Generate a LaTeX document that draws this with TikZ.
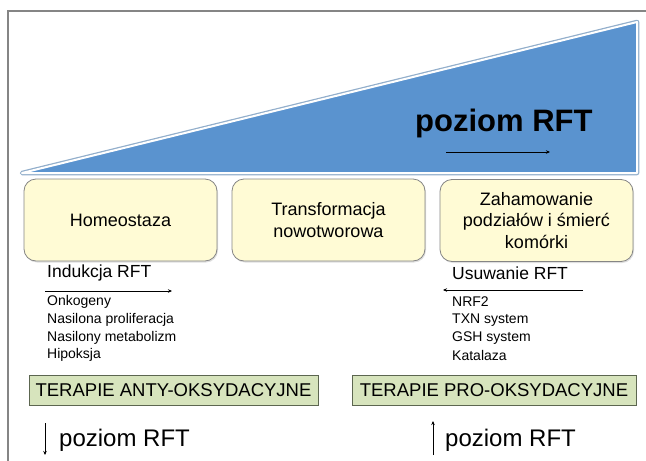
\documentclass[tikz,border=0pt]{standalone}
\usepackage{fontspec}
\setmainfont{Liberation Sans}
\usepackage{xcolor}
\usetikzlibrary{arrows.meta,positioning,shadows}
\definecolor{frame}{HTML}{858585}
\definecolor{wedge}{HTML}{5A93CF}
\definecolor{wedgeline}{HTML}{4A78A8}
\definecolor{cream}{HTML}{FFFBD5}
\definecolor{sage}{HTML}{D7E4BD}
\definecolor{sageline}{HTML}{5C6650}

\begin{document}
\begin{tikzpicture}[x=1pt,y=-1pt,
  stage/.style={draw=frame,fill=cream,rounded corners=12pt,minimum width=193pt,minimum height=82pt,align=center,line width=0.8pt,font=\fontsize{18}{21.5}\selectfont,drop shadow={opacity=0.25,shadow xshift=1pt,shadow yshift=-1.5pt}},
  therapy/.style={draw=sageline,fill=sage,minimum height=30pt,line width=0.8pt,font=\fontsize{18.5}{21}\selectfont},
  item/.style={anchor=west,inner sep=0pt,font=\fontsize{14}{16}\selectfont},
  thinarrow/.style={-{Stealth[length=4pt,width=3.5pt]},line width=0.6pt}]
\useasboundingbox (0,0) rectangle (646,461);
\draw[frame,line width=2pt] (8,461)--(8,11)--(646,11);
% rising wedge
\draw[wedgeline!60,line width=4.5pt,line join=round] (22,173)--(637,22)--(637,173)--cycle;
\filldraw[fill=wedge,draw=white,line width=2pt,line join=round] (22,173)--(637,22)--(637,173)--cycle;
\node[anchor=west,inner sep=0pt,font=\fontsize{31}{31}\selectfont\bfseries] (level) at (415,123) {poziom RFT};
\coordinate (lvA) at (446,152);\coordinate (lvB) at (550,152);
\draw[thinarrow] (lvA)--(lvB);
% stages
\node[stage] (homeo) at (120.5,220) {Homeostaza};
\node[stage] (transf) at (328.5,220) {Transformacja\\nowotworowa};
\node[stage] (zaham) at (536.5,220.5) {Zahamowanie\\podziałów i śmierć\\komórki};
% induction / removal
\node[anchor=west,inner sep=0pt,font=\fontsize{17.5}{20}\selectfont] (ind) at (47,273) {Indukcja RFT};
\coordinate (indA) at (45,291);\coordinate (indB) at (172,291);
\draw[thinarrow] (indA)--(indB);
\node[item] (ind1) at (47,302) {Onkogeny};
\node[item] (ind2) at (47,320) {Nasilona proliferacja};
\node[item] (ind3) at (47,338) {Nasilony metabolizm};
\node[item] (ind4) at (47,355) {Hipoksja};
\node[anchor=west,inner sep=0pt,font=\fontsize{17.5}{20}\selectfont] (rem) at (452,273) {Usuwanie RFT};
\coordinate (remA) at (583,290);\coordinate (remB) at (443,290);
\draw[thinarrow] (remA)--(remB);
\node[item] (rem1) at (452,302) {NRF2};
\node[item] (rem2) at (452,320) {TXN system};
\node[item] (rem3) at (452,338) {GSH system};
\node[item] (rem4) at (452,355) {Katalaza};
% therapies
\node[therapy,minimum width=289pt] (anti) at (173.5,390) {TERAPIE ANTY-OKSYDACYJNE};
\node[therapy,minimum width=284pt] (pro) at (494,390) {TERAPIE PRO-OKSYDACYJNE};
\coordinate (dnA) at (45,423);\coordinate (dnB) at (45,455);
\draw[thinarrow] (dnA)--(dnB);
\node[anchor=west,inner sep=0pt,font=\fontsize{24}{24}\selectfont] (low) at (59,440) {poziom RFT};
\coordinate (upA) at (433,455);\coordinate (upB) at (433,421);
\draw[thinarrow] (upA)--(upB);
\node[anchor=west,inner sep=0pt,font=\fontsize{24}{24}\selectfont] (high) at (445,440) {poziom RFT};
\end{tikzpicture}
\end{document}
